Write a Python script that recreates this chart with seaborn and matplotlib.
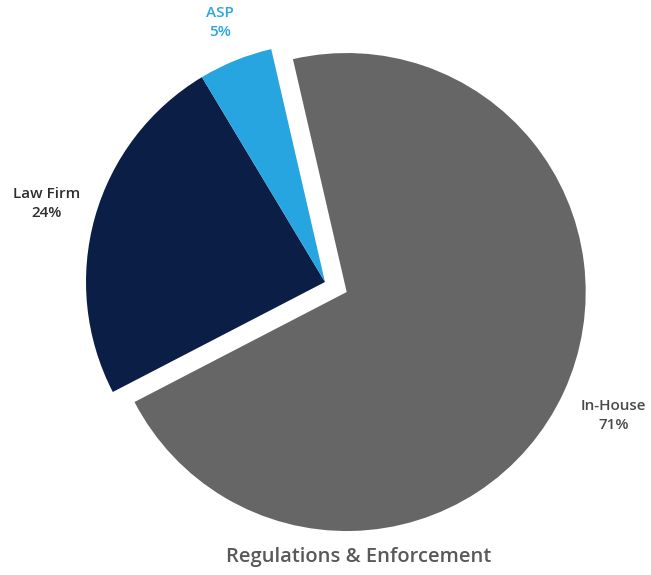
import numpy as np
import matplotlib
matplotlib.use("Agg")
import matplotlib.pyplot as plt
import seaborn as sns

# Share of respondents by provider type
categories = ["In-House", "Law Firm", "ASP"]
shares = [71, 24, 5]
title = "Regulations & Enforcement"

wedge_colors = ["#666666", "#0b1e45", "#26a5e0"]
label_colors = ["#4a4a4a", "#2e2e2e", "#29a8e0"]
explode = [0.1, 0, 0]
label_dist = [1.23, 1.21, 1.17]

sns.set_theme(style="white")
plt.rcParams["font.family"] = ["Open Sans", "DejaVu Sans"]

W, H = 651, 575
fig = plt.figure(figsize=(W / 100, H / 100), dpi=100)
ax = fig.add_axes([0, 0, 1, 1])

wedges, texts = ax.pie(
    shares,
    colors=wedge_colors,
    explode=explode,
    startangle=103,
    counterclock=False,
    labels=[f"{c}\n{s}%" for c, s in zip(categories, shares)],
    wedgeprops=dict(linewidth=0),
)

for w, t, d, col in zip(wedges, texts, label_dist, label_colors):
    ang = np.deg2rad((w.theta1 + w.theta2) / 2)
    cx, cy = w.center
    t.set_position((cx + d * w.r * np.cos(ang), cy + d * w.r * np.sin(ang)))
    t.set_ha("center")
    t.set_va("center")
    t.set_color(col)
    t.set_fontsize(11)
    t.set_fontweight("semibold")
    t.set_linespacing(1.45)

# pie centre at pixel (325, 282), radius 239 px
scale = 239.0
cxp, cyp = 325.0, 282.0
ax.set_aspect("auto")
ax.set_xlim(-cxp / scale, (W - cxp) / scale)
ax.set_ylim(-(H - cyp) / scale, cyp / scale)
ax.axis("off")

ax.text(359 / W, 1 - 557 / H, title, transform=ax.transAxes, ha="center", va="center",
        fontsize=14.5, fontweight="semibold", color="#595959")

fig.savefig("out.png", dpi=100)
